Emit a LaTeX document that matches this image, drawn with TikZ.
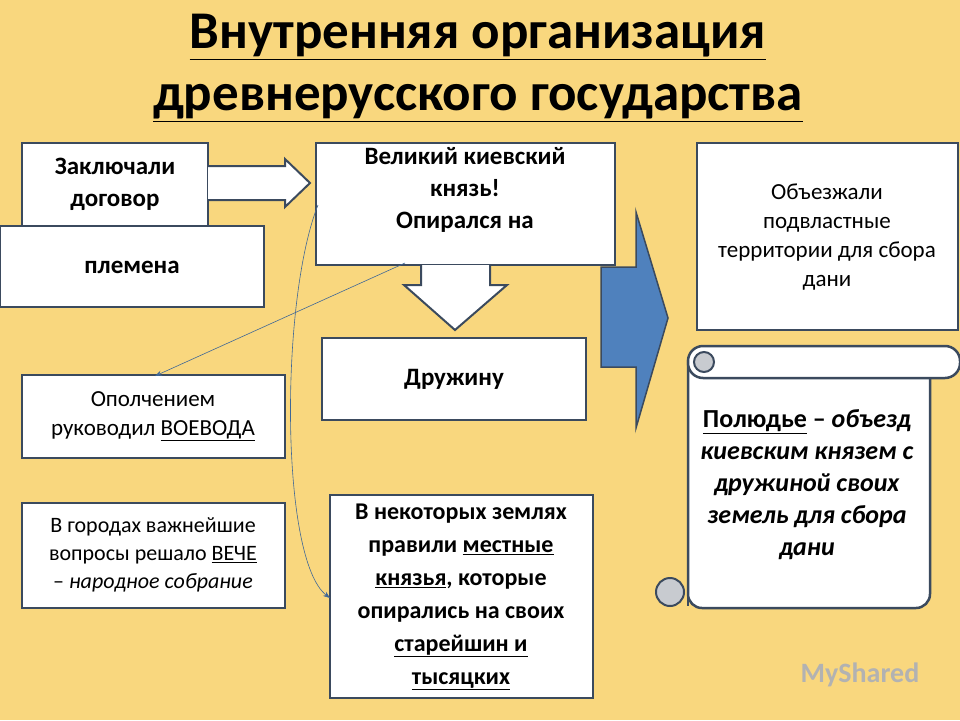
\documentclass[tikz,border=0pt]{standalone}
\usepackage{fontspec}
\setmainfont{Carlito}
\usetikzlibrary{arrows.meta}
\definecolor{bg}{HTML}{F9D77E}
\definecolor{bd}{HTML}{3B4A5E}
\definecolor{blu}{HTML}{4F81BD}
\definecolor{curl}{HTML}{C8CBD0}
\begin{document}
\begin{tikzpicture}[x=1pt,y=-1pt,
 box/.style={draw=bd,line width=2.2pt,fill=white},
 txt/.style={align=center,font=\fontsize{25}{32}\selectfont\bfseries},
 stxt/.style={align=center,font=\fontsize{23}{29}\selectfont}]
\fill[bg] (0,0) rectangle (960,720);
\useasboundingbox (0,0) rectangle (960,720);
\node[align=center,font=\fontsize{53}{62}\selectfont\bfseries] (title) at (478,68) {\underline{Внутренняя организация}\\\underline{древнерусского государства}};
% boxes
\draw[box] (22,143) rectangle (208,232);
\node[txt] (zak) at (115,184) {Заключали\\договор};
\draw[box] (0,226) rectangle (264,307);
\node[txt] (plem) at (132,267) {племена};
\draw[box] (316,143) rectangle (615,265);
\node[txt] (vel) at (465,190) {Великий киевский\\князь!\\Опирался на};
\draw[box] (322,338) rectangle (586,420);
\node[txt] (dru) at (454,379) {Дружину};
\draw[box] (22,375) rectangle (285,458);
\node[stxt] (opo) at (153,416) {Ополчением\\руководил \underline{ВОЕВОДА}};
\draw[box] (22,503) rectangle (285,608);
\node[stxt,font=\fontsize{22}{28}\selectfont] (gor) at (153,555) {В городах важнейшие\\вопросы решало \underline{ВЕЧЕ}\\– \textit{народное собрание}};
\draw[box] (330,495) rectangle (593,698);
\node[txt,font=\fontsize{24}{33}\selectfont\bfseries] (nek) at (461,597) {В некоторых землях\\правили \underline{местные}\\\underline{князья}, которые\\опирались на своих\\\underline{старейшин и}\\\underline{тысяцких}};
\draw[box] (697,143) rectangle (958,330);
\node[stxt] (obe) at (827,237) {Объезжали\\подвластные\\территории для сбора\\дани};
% block arrow right
\draw[box,line width=2pt] (208,166)--(285,166)--(285,159)--(310,183)--(285,207)--(285,200)--(208,200);
% down arrow
\draw[box,line width=2pt] (421,265)--(421,285)--(404,285)--(455,330)--(507,285)--(490,285)--(490,265);
% blue arrow
\draw[draw=bd,fill=blu,line width=1.5pt] (601,267)--(636,267)--(636,212)--(668,318)--(636,428)--(636,367)--(601,367)--cycle;
% scroll
\draw[box,line width=2.5pt,rounded corners=14pt] (688,360) -- (688,608) -- (930,608) -- (930,370);
\draw[box,line width=2.5pt,rounded corners=15pt] (688,346) rectangle (960,378);
\draw[draw=bd,line width=2pt,fill=curl] (704,362) circle (10);
\draw[draw=bd,line width=2pt,fill=curl] (670,592) circle (14);
\draw[draw=bd,line width=2pt] (688,578) -- (688,606);
\node[txt,font=\fontsize{26}{32}\selectfont\bfseries] (pol) at (807,485) {\underline{Полюдье} – \textit{объезд}\\\textit{киевским князем с}\\\textit{дружиной своих}\\\textit{земель для сбора}\\\textit{дани}};
% thin connectors
\draw[blu!80!black,line width=0.6pt,-{Stealth[length=7pt]}] (405,263) -- (155,376);
\draw[blu!80!black,line width=0.6pt,-{Stealth[length=7pt]}] (318,205) .. controls (280,300) and (280,560) .. (330,598);
\node[text=gray!60,font=\fontsize{28}{30}\selectfont\bfseries] (ms) at (860,675) {MyShared};
\end{tikzpicture}
\end{document}
